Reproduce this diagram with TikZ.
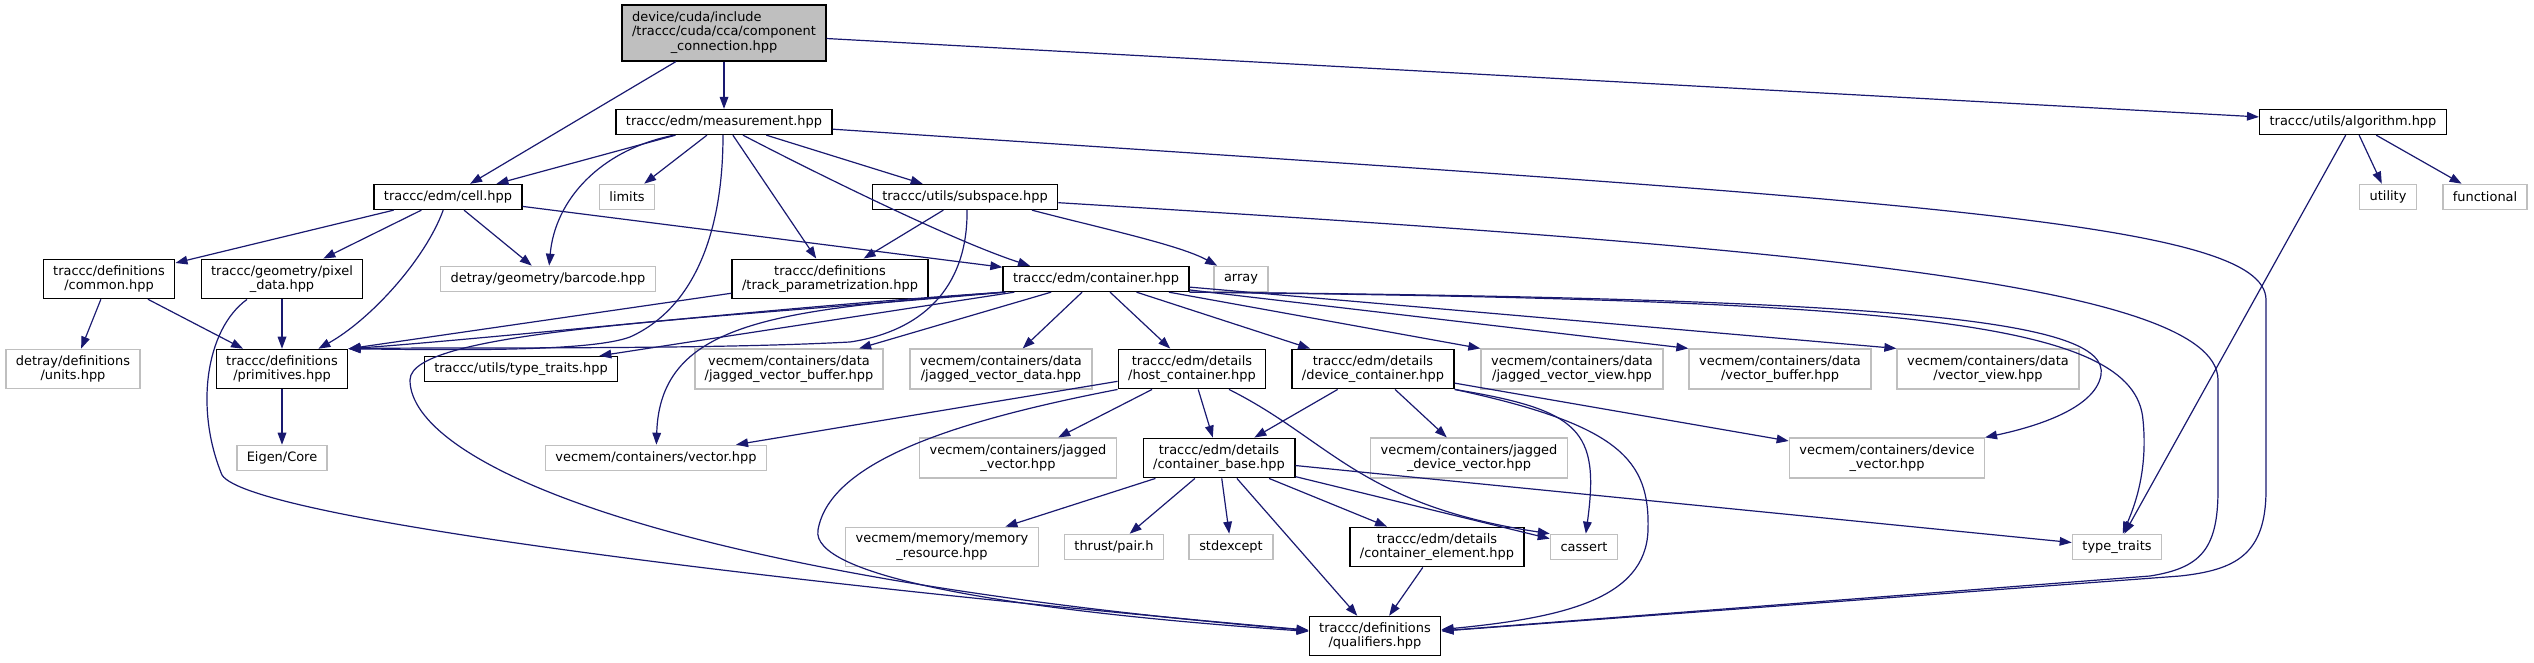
\documentclass[tikz,border=0pt]{standalone}
\usepackage{fontspec}
\setmainfont{DejaVu Sans}
\usetikzlibrary{arrows.meta,calc}
\definecolor{edgeblue}{HTML}{191970}
\definecolor{extgrey}{HTML}{BFBFBF}
\tikzset{
  base/.style={
    rectangle,draw=black,line width=1pt,fill=white,
    align=center,inner xsep=7.5pt,inner ysep=4.5pt,minimum height=18.75pt
  },
  doc/.style={base},
  ext/.style={base,draw=extgrey,line width=1.2pt},
  src/.style={base,fill=extgrey},
  arrow/.style={->,line width=0.9pt,draw=edgeblue}
}

\begin{document}
\begin{tikzpicture}[
    x=0.75pt,y=-0.75pt,>={Triangle[length=9pt,width=6.5pt]},
    every node/.style={font=\fontsize{9.7}{11}\selectfont}
  ]
    \useasboundingbox (0,0) rectangle (2534,663);

    \node[src] (conn) at (724,33) {\begin{tabular}{@{}l@{}}device/cuda/include\\
      /traccc/cuda/cca/component\\
      \multicolumn{1}{@{}c@{}}{\_connection.hpp}\end{tabular}};
    \node[doc] (meas) at (724,122) {traccc/edm/measurement.hpp};
    \node[doc] (algo) at (2353,122) {traccc/utils/algorithm.hpp};
    \node[doc] (cell) at (448,197) {traccc/edm/cell.hpp};
    \node[ext] (limits) at (627,197) {limits};
    \node[doc] (subspace) at (965,197) {traccc/utils/subspace.hpp};
    \node[ext] (utility) at (2388,197) {utility};
    \node[ext] (functional) at (2485,197) {functional};
    \node[doc] (common) at (109,279) {traccc/definitions\\/common.hpp};
    \node[doc] (pixel) at (282,279) {traccc/geometry/pixel\\\_data.hpp};
    \node[ext] (barcode) at (548,279) {detray/geometry/barcode.hpp};
    \node[doc] (trackpar) at (830,279)
      {traccc/definitions\\/track\_parametrization.hpp};
    \node[doc] (container) at (1096,279) {traccc/edm/container.hpp};
    \node[ext] (array) at (1241,279) {array};
    \node[ext] (units) at (73,369) {detray/definitions\\/units.hpp};
    \node[doc] (prims) at (282,369) {traccc/definitions\\/primitives.hpp};
    \node[doc] (utraits) at (521,369) {traccc/utils/type\_traits.hpp};
    \node[ext] (jvbuf) at (789,369)
      {vecmem/containers/data\\/jagged\_vector\_buffer.hpp};
    \node[ext] (jvdata) at (1001,369)
      {vecmem/containers/data\\/jagged\_vector\_data.hpp};
    \node[doc] (hostc) at (1192,369) {traccc/edm/details\\/host\_container.hpp};
    \node[doc] (devc) at (1373,369) {traccc/edm/details\\/device\_container.hpp};
    \node[ext] (jvview) at (1572,369)
      {vecmem/containers/data\\/jagged\_vector\_view.hpp};
    \node[ext] (vbuf) at (1780,369) {vecmem/containers/data\\/vector\_buffer.hpp};
    \node[ext] (vview) at (1988,369) {vecmem/containers/data\\/vector\_view.hpp};
    \node[ext] (eigen) at (282,458) {Eigen/Core};
    \node[ext] (vvector) at (656,458) {vecmem/containers/vector.hpp};
    \node[ext] (jvector) at (1018,458) {vecmem/containers/jagged\\\_vector.hpp};
    \node[doc] (cbase) at (1219,458) {traccc/edm/details\\/container\_base.hpp};
    \node[ext] (jdvector) at (1469,458)
      {vecmem/containers/jagged\\\_device\_vector.hpp};
    \node[ext] (dvector) at (1887,458) {vecmem/containers/device\\\_vector.hpp};
    \node[ext] (memres) at (942,547) {vecmem/memory/memory\\\_resource.hpp};
    \node[ext] (pairh) at (1114,547) {thrust/pair.h};
    \node[ext] (stdexc) at (1231,547) {stdexcept};
    \node[doc] (celem) at (1437,547)
      {traccc/edm/details\\/container\_element.hpp};
    \node[ext] (cassert) at (1584,547) {cassert};
    \node[ext] (traits) at (2117,547) {type\_traits};
    \node[doc] (quals) at (1375,636) {traccc/definitions\\/qualifiers.hpp};

    % top file and measurement
    \draw[arrow] (conn) -- (meas);
    \draw[arrow] (conn) -- (cell);
    \draw[arrow] (conn) -- (algo);
    \draw[arrow] (meas) -- (cell);
    \draw[arrow] ($(meas.south)+(-50,0)$) .. controls (600,150) and (555,200)
      .. (barcode);
    \draw[arrow] (meas) -- (limits);
    \draw[arrow] ($(meas.south)+(-1,0)$) .. controls (723,240) and (690,310)
      .. (630,337) .. controls (590,352) and (450,350) .. (prims.north east);
    \draw[arrow] (meas) -- (trackpar);
    \draw[arrow] ($(meas.south)+(19,0)$) .. controls (800,165) and (950,240)
      .. ($(container.north)+(-66,0)$);
    \draw[arrow] (meas) -- (subspace);
    \draw[arrow] (meas) .. controls (1900,200) and (2266,220) .. (2266,300)
      -- (2266,490) .. controls (2266,555) and (2235,570) .. (2180,576)
      -- (quals);

    % subspace
    \draw[arrow] (subspace) -- (trackpar);
    \draw[arrow] ($(subspace.south)+(2,0)$) .. controls (968,280) and (930,330)
      .. (850,342) .. controls (700,350) and (450,347) .. (prims.north east);
    \draw[arrow] ($(subspace.south)+(67,0)$) .. controls (1100,228) and (1180,245)
      .. (array);
    \draw[arrow] (subspace) .. controls (1750,245) and (2218,280) .. (2218,380)
      -- (2218,490) .. controls (2218,550) and (2200,568) .. (2150,576)
      -- (quals);

    % cell
    \draw[arrow] (cell) -- (common);
    \draw[arrow] (cell) -- (pixel);
    \draw[arrow] (cell) .. controls (425,260) and (370,320) .. (prims);
    \draw[arrow] (cell) -- (barcode);
    \draw[arrow] (cell) -- (container);

    % definitions
    \draw[arrow] (common) -- (units);
    \draw[arrow] (common) -- (prims);
    \draw[arrow] (pixel) -- (prims);
    \draw[arrow] ($(pixel.south)+(-35,0)$) .. controls (205,330) and (195,410)
      .. (222,475) .. controls (250,520) and (800,585) .. (quals);
    \draw[arrow] (trackpar) -- (prims.north east);
    \draw[arrow] (prims) -- (eigen);

    % container
    \draw[arrow] ($(container.south west)+(3,0)$) .. controls (800,305)
      and (500,338) .. (prims.north east);
    \draw[arrow] ($(container.south west)+(12,0)$)
      -- ($(utraits.north east)+(-19,0)$);
    \draw[arrow] (container) -- (jvbuf);
    \draw[arrow] (container) -- (jvdata);
    \draw[arrow] (container) -- (hostc);
    \draw[arrow] (container) -- (devc);
    \draw[arrow] (container) -- (jvview.north west);
    \draw[arrow] (container) -- (vbuf.north west);
    \draw[arrow] (container) -- (vview.north west);
    \draw[arrow] (container.south west) .. controls (780,310) and (660,320)
      .. (vvector);
    \draw[arrow] (container.south east) .. controls (1900,298) and (2110,320)
      .. (2101,375) .. controls (2095,410) and (2030,428) .. (dvector);
    \draw[arrow] (container.south east) .. controls (1900,300) and (2135,320)
      .. (2143,420) .. controls (2148,470) and (2135,505) .. (traits);
    \draw[arrow] ($(container.south west)+(3,0)$) .. controls (700,320)
      and (410,330) .. (410,380) .. controls (410,460) and (650,575) .. (quals);

    % host and device containers
    \draw[arrow] (hostc) -- (vvector);
    \draw[arrow] (hostc) -- (jvector);
    \draw[arrow] (hostc) -- (cbase);
    \draw[arrow] ($(hostc.south)+(37,0)$) .. controls (1330,440) and (1360,505)
      .. (cassert.north west);
    \draw[arrow] (hostc.south west) .. controls (960,420) and (830,460)
      .. (818,530) .. controls (810,575) and (1000,610) .. (quals);
    \draw[arrow] (devc) -- (cbase);
    \draw[arrow] (devc) -- (jdvector);
    \draw[arrow] (devc) -- (dvector);
    \draw[arrow] (devc.south east) .. controls (1580,410) and (1600,430)
      .. (cassert);
    \draw[arrow] (devc.south east) .. controls (1620,425) and (1650,460)
      .. (1648,530) .. controls (1646,600) and (1560,618) .. (quals);

    % container base
    \draw[arrow] (cbase) -- (memres);
    \draw[arrow] (cbase) -- (pairh);
    \draw[arrow] (cbase) -- (stdexc);
    \draw[arrow] (cbase) -- (celem);
    \draw[arrow] (cbase) -- (quals);
    \draw[arrow] (cbase) -- (cassert);
    \draw[arrow] (cbase) -- (traits);
    \draw[arrow] (celem) -- (quals);

    % algorithm
    \draw[arrow] (algo) -- (utility);
    \draw[arrow] (algo) -- (functional);
    \draw[arrow] (algo) -- (traits);
  \end{tikzpicture}
\end{document}
